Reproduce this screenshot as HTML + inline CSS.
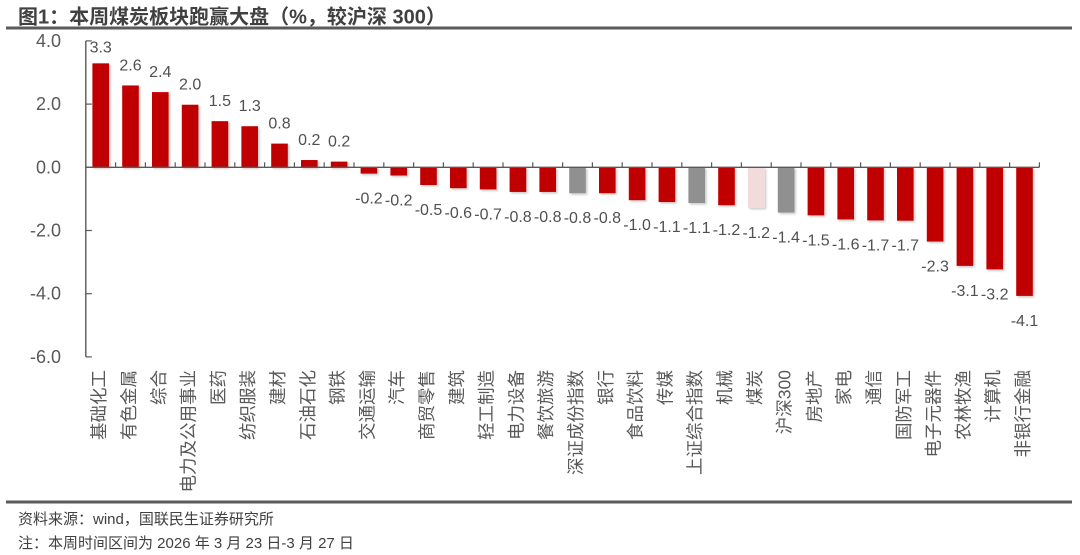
<!DOCTYPE html>
<html>
<head>
<meta charset="utf-8">
<style>
  html,body{margin:0;padding:0;background:#fff;}
  svg{display:block;}
  .cat{font-family:"Liberation Sans","Noto Sans CJK SC",sans-serif;font-size:17.5px;fill:#595959;}
  .val{font-family:"Liberation Sans","Noto Sans CJK SC",sans-serif;font-size:16px;fill:#505050;}
  .yl{font-family:"Liberation Sans","Noto Sans CJK SC",sans-serif;font-size:18px;fill:#595959;}
  .title{font-family:"Liberation Sans","Noto Sans CJK SC",sans-serif;font-size:20px;font-weight:bold;fill:#404040;}
  .foot{font-family:"Liberation Sans","Noto Sans CJK SC",sans-serif;font-size:15px;fill:#404040;}
</style>
</head>
<body>
<svg id="c" width="1080" height="555" viewBox="0 0 1080 555" xmlns="http://www.w3.org/2000/svg">
  <defs>
    <filter id="sh" x="-20%" y="-20%" width="150%" height="150%">
      <feDropShadow dx="1.5" dy="1.5" stdDeviation="1" flood-color="#000" flood-opacity="0.22"/>
    </filter>
  </defs>
  <text class="title" x="18" y="23.5">图1：本周煤炭板块跑赢大盘（%，较沪深 300）</text>
  <rect x="6" y="26.5" width="1066" height="3" fill="#5a5a5a"/>
  <g id="bars" filter="url(#sh)"></g>
  <g id="axes"></g>
  <g id="labels"></g>
  <rect x="6" y="500.5" width="1066" height="3" fill="#5a5a5a"/>
  <text class="foot" x="18" y="524">资料来源：wind，国联民生证券研究所</text>
  <text class="foot" x="18" y="548">注：本周时间区间为 2026 年 3 月 23 日-3 月 27 日</text>
</svg>
<script>
(function(){
  var NS="http://www.w3.org/2000/svg";
  var cats=["基础化工","有色金属","综合","电力及公用事业","医药","纺织服装","建材","石油石化","钢铁","交通运输","汽车","商贸零售","建筑","轻工制造","电力设备","餐饮旅游","深证成份指数","银行","食品饮料","传媒","上证综合指数","机械","煤炭","沪深300","房地产","家电","通信","国防军工","电子元器件","农林牧渔","计算机","非银行金融"];
  var vals=[3.29,2.59,2.38,1.98,1.46,1.30,0.75,0.23,0.18,-0.2,-0.26,-0.56,-0.66,-0.70,-0.78,-0.78,-0.82,-0.82,-1.04,-1.10,-1.13,-1.20,-1.28,-1.43,-1.52,-1.65,-1.68,-1.69,-2.35,-3.12,-3.23,-4.07];
  var labs=["3.3","2.6","2.4","2.0","1.5","1.3","0.8","0.2","0.2","-0.2","-0.2","-0.5","-0.6","-0.7","-0.8","-0.8","-0.8","-0.8","-1.0","-1.1","-1.1","-1.2","-1.2","-1.4","-1.5","-1.6","-1.7","-1.7","-2.3","-3.1","-3.2","-4.1"];
  var y0=167.3, k=31.6, x0=85.8, step=29.8, bw=16.6;
  function Y(v){return y0-k*v;}
  function el(tag,attrs,parent,txt){var e=document.createElementNS(NS,tag);for(var a in attrs)e.setAttribute(a,attrs[a]);if(txt!=null)e.textContent=txt;parent.appendChild(e);return e;}
  var gb=document.getElementById("bars"), ga=document.getElementById("axes"), gl=document.getElementById("labels");
  for(var i=0;i<cats.length;i++){
    var cx=x0+step*(i+0.5);
    var v=vals[i];
    var col="#C00000";
    if(cats[i]==="深证成份指数"||cats[i]==="上证综合指数"||cats[i]==="沪深300") col="#909090";
    if(cats[i]==="煤炭") col="#F2DCDB";
    var yt=Math.min(Y(v),y0), h=Math.abs(Y(v)-y0);
    el("rect",{x:(cx-bw/2).toFixed(2),y:yt.toFixed(2),width:bw,height:h.toFixed(2),fill:col},gb);
    var ly;
    if(v>=0){ ly=Y(v)-15; if(ly<52.7) ly=52.7; }
    else { ly=Y(v)+30; }
    el("text",{x:cx.toFixed(2),y:ly.toFixed(2),"text-anchor":"middle","class":"val"},gl,labs[i]);
    el("text",{transform:"translate("+(cx-1.5).toFixed(2)+",370) rotate(-90)","text-anchor":"end","dominant-baseline":"central","class":"cat"},gl,cats[i]);
  }
  var xEnd=x0+step*cats.length;
  el("line",{x1:x0,y1:y0,x2:xEnd,y2:y0,stroke:"#595959","stroke-width":1.4},ga);
  for(var j=1;j<=cats.length;j++){
    var tx=x0+step*j;
    el("line",{x1:tx,y1:y0,x2:tx,y2:y0-5,stroke:"#595959","stroke-width":1.2},ga);
  }
  el("line",{x1:x0,y1:Y(4),x2:x0,y2:Y(-6),stroke:"#595959","stroke-width":1.4},ga);
  var yt=[4,2,0,-2,-4,-6];
  for(var t=0;t<yt.length;t++){
    var yy=Y(yt[t]);
    el("line",{x1:x0,y1:yy,x2:x0+6,y2:yy,stroke:"#595959","stroke-width":1.2},ga);
    el("text",{x:61,y:(yy+6).toFixed(2),"text-anchor":"end","class":"yl"},gl,yt[t].toFixed(1));
  }
})();
</script>
</body>
</html>
